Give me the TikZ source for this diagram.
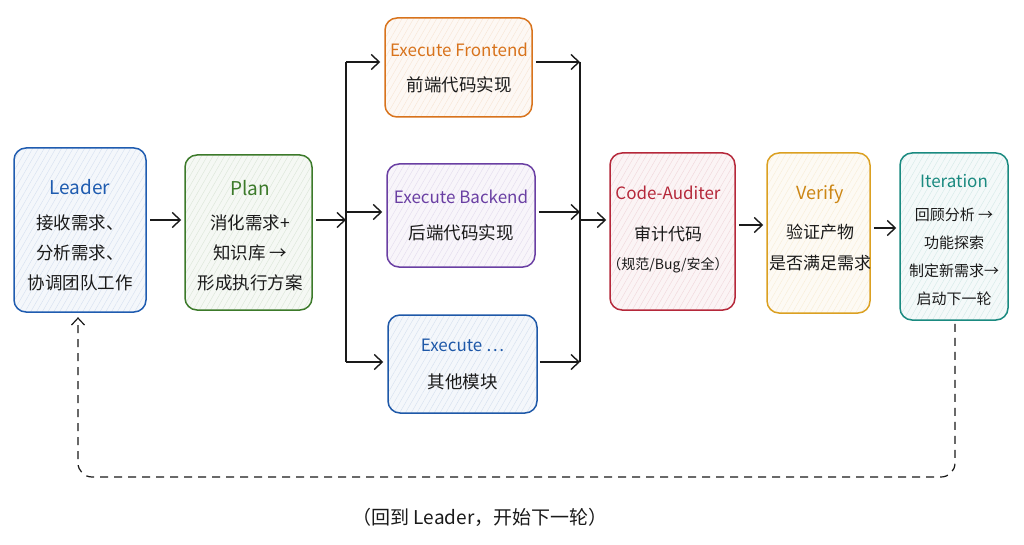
\documentclass[tikz,border=0pt]{standalone}
\usepackage{fontspec}
\setmainfont{Noto Sans CJK SC}
\usetikzlibrary{arrows.meta,patterns.meta,calc}
\definecolor{cLeader}{HTML}{1F5CB0}
\definecolor{cPlan}{HTML}{3C7A2A}
\definecolor{cFront}{HTML}{D8731C}
\definecolor{cBack}{HTML}{6A3FA3}
\definecolor{cOther}{HTML}{1E58A8}
\definecolor{cCode}{HTML}{B5283A}
\definecolor{cVerify}{HTML}{DBA021}
\definecolor{cVerifyT}{HTML}{CC8614}
\definecolor{cIter}{HTML}{1A8A80}
\definecolor{ink}{HTML}{1A1A1A}
\newcommand{\ttl}[2]{{\fontsize{#2}{20}\selectfont\textcolor{#1}{\strut}}}
\begin{document}
\begin{tikzpicture}[x=1pt,y=-1pt,
  box/.style={draw=#1, line width=1.5pt, rounded corners=12pt,
    preaction={fill=#1!5},
    pattern={Lines[angle=60,distance=5pt,line width=0.35pt]}, pattern color=#1!20,
    inner sep=0pt},
  txt/.style={align=center, inner sep=0pt, text=ink, font=\fontsize{17.5}{30}\selectfont},
  arr/.style={draw=ink, line width=1.4pt, -{Straight Barb[length=8pt,width=15pt,line width=1.4pt]}},
  bus/.style={draw=ink, line width=1.4pt},
  loop/.style={draw=ink, line width=1.2pt, dash pattern=on 8pt off 6pt, rounded corners=14pt}
]
\useasboundingbox[fill=white] (0,0) rectangle (1024,545);

% boxes
\node[box=cLeader, minimum width=132pt, minimum height=164pt] (ld) at (80,230) {};
\node[box=cPlan, minimum width=127pt, minimum height=155pt] (pl) at (248.5,232.5) {};
\node[box=cFront, minimum width=147pt, minimum height=99pt] (fe) at (458.5,67.5) {};
\node[box=cBack, minimum width=148pt, minimum height=103pt] (be) at (461,215.5) {};
\node[box=cOther, minimum width=149pt, minimum height=98pt] (ot) at (462.5,364) {};
\node[box=cCode, minimum width=125pt, minimum height=157pt] (ca) at (672.5,231.5) {};
\node[box=cVerify, minimum width=103pt, minimum height=160pt] (vf) at (818.5,233) {};
\node[box=cIter, minimum width=108pt, minimum height=167pt] (it) at (954,236.5) {};

% texts
\node[txt] (ldT) at (80,235)
  {{\fontsize{19}{20}\selectfont\textcolor{cLeader}{Leader}}\\[5pt]接收需求、\\分析需求、\\协调团队工作};
\node[txt] (plT) at (250,235.5)
  {{\fontsize{19}{20}\selectfont\textcolor{cPlan}{Plan}}\\[4pt]消化需求+\\知识库 →\\形成执行方案};
\node[txt] (feT) at (459,68)
  {{\fontsize{17}{20}\selectfont\textcolor{cFront}{Execute Frontend}}\\[5pt]前端代码实现};
\node[txt] (beT) at (461,215.5)
  {{\fontsize{17}{20}\selectfont\textcolor{cBack}{Execute Backend}}\\[6pt]后端代码实现};
\node[txt] (otT) at (462.5,364)
  {{\fontsize{17}{20}\selectfont\textcolor{cOther}{Execute …}}\\[7pt]其他模块};
\node[txt, font=\fontsize{17}{30}\selectfont] (caT) at (668,229)
  {{\fontsize{17}{20}\selectfont\textcolor{cCode}{Code-Auditer}}\\[11pt]审计代码\\[-1pt]{\fontsize{14}{20}\selectfont （规范/Bug/安全）}};
\node[txt, font=\fontsize{17}{31}\selectfont] (vfT) at (820,228)
  {{\fontsize{18}{20}\selectfont\textcolor{cVerifyT}{Verify}}\\[8pt]验证产物\\是否满足需求};
\node[txt, font=\fontsize{15}{28}\selectfont] (itT) at (954,240)
  {{\fontsize{17}{20}\selectfont\textcolor{cIter}{Iteration}}\\[5pt]回顾分析 →\\功能探索\\制定新需求→\\启动下一轮};

% connectors
\coordinate (bl) at (346,220);
\coordinate (br) at (580,220);
\coordinate (lr) at (955,477);
\coordinate (ll) at (78,477);

\draw[arr, shorten <=4pt, shorten >=3pt] (ld.east |- 0,220) -- (pl.west |- 0,220);
\draw[arr, shorten <=3pt] (pl.east |- 0,220) -- (bl);
\draw[bus] (bl |- 0,62) -- (bl |- 0,362);
\draw[arr, shorten >=4pt] (bl |- 0,62) -- (fe.west |- 0,62);
\draw[arr, shorten >=4pt] (bl |- 0,212) -- (be.west |- 0,212);
\draw[arr, shorten >=4pt] (bl |- 0,362) -- (ot.west |- 0,362);
\draw[arr, shorten <=3pt] (fe.east |- 0,62) -- (br |- 0,62);
\draw[arr, shorten <=3pt] (be.east |- 0,212) -- (br |- 0,212);
\draw[arr, shorten <=2pt] (ot.east |- 0,362) -- (br |- 0,362);
\draw[bus] (br |- 0,62) -- (br |- 0,362);
\draw[arr, shorten >=3pt] (br) -- (ca.west |- br);
\draw[arr, shorten <=3pt, shorten >=3pt] (ca.east |- 0,225) -- (vf.west |- 0,225);
\draw[arr, shorten <=3pt, shorten >=3pt] (vf.east |- 0,228) -- (it.west |- 0,228);

\draw[loop, -{Straight Barb[length=7pt,width=13pt,line width=1.2pt]}, shorten <=3pt, shorten >=5pt]
  (it.south -| lr) -- (lr) -- (ll) -- (ll |- ld.south);

\node[font=\fontsize{19}{20}\selectfont, text=ink] (lbl) at (480,517) {（回到 Leader，开始下一轮）};
\end{tikzpicture}
\end{document}
